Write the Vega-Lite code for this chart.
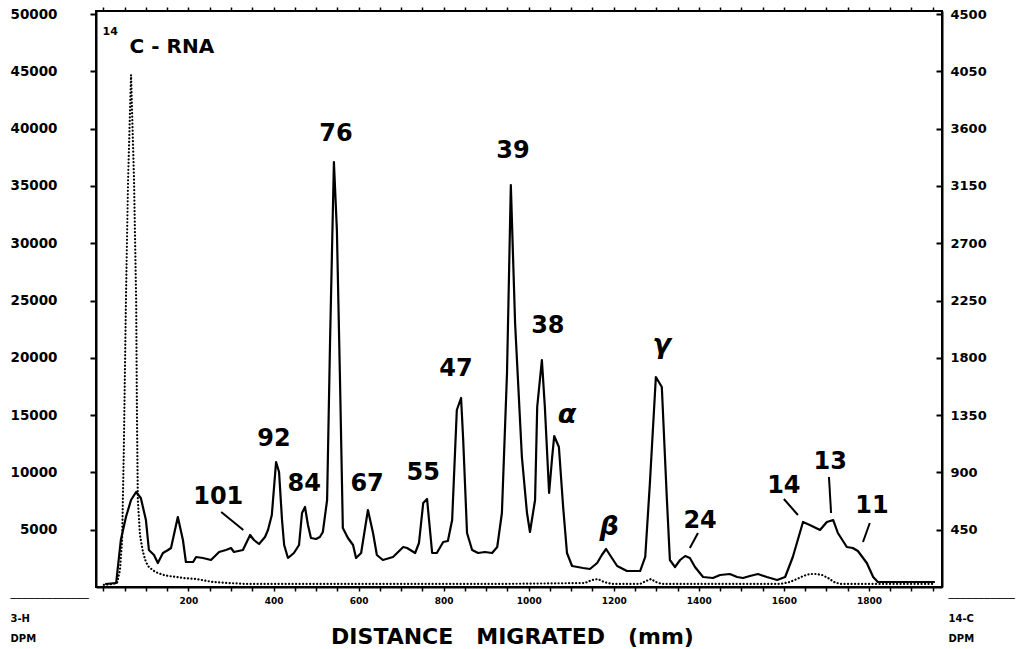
{
  "$schema": "https://vega.github.io/schema/vega-lite/v6.json",
  "width": 846,
  "height": 576,
  "autosize": {"type": "none"},
  "padding": {"left": 96, "top": 11, "right": 75, "bottom": 62},
  "background": "white",
  "config": {
    "view": {"stroke": "black", "strokeWidth": 2},
    "axis": {"grid": false, "labelColor": "black", "tickColor": "black", "domainColor": "black", "titleColor": "black", "labelFont": "DejaVu Sans", "titleFont": "DejaVu Sans", "labelFontWeight": "bold", "titleFontWeight": "bold"}
  },
  "datasets": {
    "solid": [
      {"x": 4, "y": 262}, {"x": 30, "y": 349}, {"x": 41, "y": 4101}, {"x": 53, "y": 6108}, {"x": 65, "y": 7592},
      {"x": 77, "y": 8290}, {"x": 88, "y": 7766}, {"x": 100, "y": 5846}, {"x": 107, "y": 3229}, {"x": 119, "y": 2792},
      {"x": 128, "y": 2094}, {"x": 140, "y": 2967}, {"x": 152, "y": 3229}, {"x": 159, "y": 3403}, {"x": 175, "y": 6108},
      {"x": 187, "y": 4101}, {"x": 194, "y": 2182}, {"x": 211, "y": 2182}, {"x": 218, "y": 2618}, {"x": 234, "y": 2531},
      {"x": 253, "y": 2356}, {"x": 272, "y": 3054}, {"x": 288, "y": 3229}, {"x": 300, "y": 3403}, {"x": 307, "y": 3054},
      {"x": 328, "y": 3229}, {"x": 345, "y": 4538}, {"x": 354, "y": 4101}, {"x": 366, "y": 3752}, {"x": 380, "y": 4363},
      {"x": 387, "y": 4974}, {"x": 396, "y": 6283}, {"x": 406, "y": 10908}, {"x": 413, "y": 10035}, {"x": 420, "y": 5846},
      {"x": 425, "y": 3665}, {"x": 434, "y": 2531}, {"x": 448, "y": 2967}, {"x": 460, "y": 3665}, {"x": 467, "y": 6457},
      {"x": 474, "y": 6981}, {"x": 481, "y": 5410}, {"x": 488, "y": 4276}, {"x": 500, "y": 4188}, {"x": 509, "y": 4363},
      {"x": 516, "y": 4799}, {"x": 526, "y": 7592}, {"x": 533, "y": 21553}, {"x": 542, "y": 37086}, {"x": 549, "y": 31152},
      {"x": 556, "y": 18674}, {"x": 563, "y": 5148}, {"x": 575, "y": 4276}, {"x": 587, "y": 3665}, {"x": 594, "y": 2531},
      {"x": 606, "y": 2967}, {"x": 622, "y": 6719}, {"x": 634, "y": 4712}, {"x": 643, "y": 2792}, {"x": 657, "y": 2356},
      {"x": 681, "y": 2618}, {"x": 705, "y": 3490}, {"x": 714, "y": 3403}, {"x": 733, "y": 2967}, {"x": 742, "y": 3839},
      {"x": 752, "y": 7330}, {"x": 761, "y": 7679}, {"x": 773, "y": 2967}, {"x": 784, "y": 2967}, {"x": 799, "y": 3927},
      {"x": 810, "y": 4014}, {"x": 820, "y": 5846}, {"x": 831, "y": 15445}, {"x": 841, "y": 16492}, {"x": 846, "y": 12827},
      {"x": 855, "y": 4712}, {"x": 867, "y": 3229}, {"x": 881, "y": 2967}, {"x": 897, "y": 3054}, {"x": 914, "y": 2967},
      {"x": 926, "y": 3490}, {"x": 937, "y": 6457}, {"x": 949, "y": 18674}, {"x": 958, "y": 35079}, {"x": 968, "y": 23037},
      {"x": 984, "y": 11344}, {"x": 996, "y": 6457}, {"x": 1003, "y": 4799}, {"x": 1015, "y": 7592}, {"x": 1020, "y": 15707},
      {"x": 1031, "y": 19808}, {"x": 1038, "y": 15707}, {"x": 1048, "y": 8202}, {"x": 1055, "y": 11257}, {"x": 1060, "y": 13176},
      {"x": 1071, "y": 12216}, {"x": 1081, "y": 6981}, {"x": 1090, "y": 2967}, {"x": 1102, "y": 1832}, {"x": 1128, "y": 1658},
      {"x": 1144, "y": 1571}, {"x": 1161, "y": 2094}, {"x": 1172, "y": 2792}, {"x": 1182, "y": 3316}, {"x": 1191, "y": 2792},
      {"x": 1208, "y": 1832}, {"x": 1231, "y": 1396}, {"x": 1262, "y": 1396}, {"x": 1274, "y": 2618}, {"x": 1285, "y": 9075},
      {"x": 1299, "y": 18325}, {"x": 1313, "y": 17452}, {"x": 1325, "y": 7592}, {"x": 1332, "y": 2356}, {"x": 1344, "y": 1745},
      {"x": 1356, "y": 2356}, {"x": 1368, "y": 2705}, {"x": 1379, "y": 2531}, {"x": 1391, "y": 1745}, {"x": 1410, "y": 873},
      {"x": 1433, "y": 785}, {"x": 1450, "y": 1047}, {"x": 1473, "y": 1134}, {"x": 1490, "y": 873}, {"x": 1504, "y": 785},
      {"x": 1520, "y": 960}, {"x": 1539, "y": 1134}, {"x": 1560, "y": 873}, {"x": 1584, "y": 611}, {"x": 1603, "y": 873},
      {"x": 1621, "y": 2618}, {"x": 1645, "y": 5672}, {"x": 1661, "y": 5410}, {"x": 1685, "y": 4974}, {"x": 1701, "y": 5672},
      {"x": 1716, "y": 5846}, {"x": 1727, "y": 4712}, {"x": 1748, "y": 3490}, {"x": 1762, "y": 3403}, {"x": 1774, "y": 3141},
      {"x": 1795, "y": 2094}, {"x": 1810, "y": 873}, {"x": 1821, "y": 436}, {"x": 1866, "y": 436}, {"x": 1955, "y": 436}
    ],
    "dotted": [
      {"x": 1, "y": 16}, {"x": 20, "y": 24}, {"x": 32, "y": 31}, {"x": 39, "y": 134}, {"x": 44, "y": 369},
      {"x": 48, "y": 1076}, {"x": 53, "y": 2254}, {"x": 58, "y": 3196}, {"x": 65, "y": 4021}, {"x": 72, "y": 3196},
      {"x": 77, "y": 2254}, {"x": 79, "y": 1311}, {"x": 81, "y": 683}, {"x": 86, "y": 408}, {"x": 93, "y": 275},
      {"x": 100, "y": 196}, {"x": 107, "y": 157}, {"x": 119, "y": 126}, {"x": 128, "y": 110}, {"x": 142, "y": 94},
      {"x": 154, "y": 86}, {"x": 171, "y": 79}, {"x": 187, "y": 71}, {"x": 218, "y": 63}, {"x": 258, "y": 39},
      {"x": 295, "y": 31}, {"x": 335, "y": 24}, {"x": 462, "y": 24}, {"x": 698, "y": 24}, {"x": 933, "y": 24},
      {"x": 1132, "y": 31}, {"x": 1149, "y": 55}, {"x": 1163, "y": 63}, {"x": 1177, "y": 39}, {"x": 1196, "y": 24},
      {"x": 1262, "y": 24}, {"x": 1276, "y": 47}, {"x": 1288, "y": 63}, {"x": 1299, "y": 39}, {"x": 1313, "y": 24},
      {"x": 1591, "y": 24}, {"x": 1614, "y": 39}, {"x": 1631, "y": 63}, {"x": 1645, "y": 86}, {"x": 1661, "y": 102},
      {"x": 1676, "y": 102}, {"x": 1690, "y": 94}, {"x": 1704, "y": 71}, {"x": 1718, "y": 39}, {"x": 1732, "y": 24},
      {"x": 1955, "y": 24}
    ],
    "labels": [
      {"x": 547, "y": 39529, "label": "76"}, {"x": 963, "y": 38045, "label": "39"}, {"x": 401, "y": 12914, "label": "92"},
      {"x": 472, "y": 8988, "label": "84"}, {"x": 620, "y": 8988, "label": "67"}, {"x": 752, "y": 9948, "label": "55"},
      {"x": 829, "y": 19023, "label": "47"}, {"x": 1045, "y": 22775, "label": "38"}, {"x": 270, "y": 7853, "label": "101"},
      {"x": 1403, "y": 5759, "label": "24"}, {"x": 1600, "y": 8813, "label": "14"}, {"x": 1709, "y": 10908, "label": "13"},
      {"x": 1807, "y": 7068, "label": "11"}
    ],
    "greek": [
      {"x": 1090, "y": 15009, "label": "α"}, {"x": 1189, "y": 5236, "label": "β"}, {"x": 1313, "y": 21117, "label": "γ"}
    ],
    "rna": [{"x": 161, "y": 47120, "label": "C - RNA"}],
    "iso": [{"x": 16, "y": 48429, "label": "14"}],
    "leaders": [
      {"x": 277, "y": 6545, "x2": 329, "y2": 4974},
      {"x": 1398, "y": 4712, "x2": 1379, "y2": 3403},
      {"x": 1600, "y": 7679, "x2": 1633, "y2": 6283},
      {"x": 1706, "y": 9599, "x2": 1711, "y2": 6457},
      {"x": 1802, "y": 5585, "x2": 1786, "y2": 3927}
    ]
  },
  "resolve": {"scale": {"y": "independent"}, "axis": {"x": "independent", "y": "independent"}},
  "layer": [
    {
      "data": {"name": "solid"},
      "mark": {"type": "line", "color": "black", "strokeWidth": 2.2, "strokeJoin": "round"},
      "encoding": {
        "x": {"field": "x", "type": "quantitative", "scale": {"domain": [-17.4, 1971.8], "nice": false, "zero": false},
          "axis": {"orient": "bottom", "values": [0,50,100,150,200,250,300,350,400,450,500,550,600,650,700,750,800,850,900,950,1000,1050,1100,1150,1200,1250,1300,1350,1400,1450,1500,1550,1600,1650,1700,1750,1800,1850,1900,1950],
            "labelExpr": "datum.value % 200 === 0 && datum.value > 0 ? datum.value + '' : ''",
            "labelFontSize": 9, "labelPadding": 5, "tickSize": 4, "tickWidth": 1.5, "domainWidth": 2,
            "title": "DISTANCE\u00a0\u00a0\u00a0MIGRATED\u00a0\u00a0\u00a0(mm)", "titleFontSize": 22, "titleX": 416, "titleY": 56, "titleAlign": "center", "titleBaseline": "alphabetic", "titleAnchor": null}},
        "y": {"field": "y", "type": "quantitative", "scale": {"domain": [0, 50262], "nice": false},
          "axis": {"orient": "left", "values": [5000,10000,15000,20000,25000,30000,35000,40000,45000,50000], "format": "d",
            "labelFontSize": 13.5, "labelPadding": 33, "tickSize": 6, "tickWidth": 2, "domainWidth": 2,
            "title": ["\u2500\u2500\u2500\u2500\u2500\u2500\u2500\u2500\u2500\u2500\u2500\u2500\u2500", "3-H", "DPM"], "titleFontSize": 10, "titleAngle": 0, "titleX": -86, "titleY": 582, "titleAlign": "left", "titleBaseline": "top", "titleLineHeight": 20, "titleAnchor": null}}
      }
    },
    {
      "data": {"name": "dotted"},
      "mark": {"type": "line", "color": "black", "strokeWidth": 2.2, "strokeDash": [0.1, 3.4], "strokeCap": "round"},
      "encoding": {
        "x": {"field": "x", "type": "quantitative", "axis": null},
        "y": {"field": "y", "type": "quantitative", "scale": {"domain": [0, 4523.6], "nice": false},
          "axis": {"orient": "right", "values": [450,900,1350,1800,2250,2700,3150,3600,4050,4500], "format": "d",
            "labelFontSize": 13, "labelPadding": 14, "tickSize": -6, "tickWidth": 2, "domainWidth": 2, "labelAlign": "left",
            "title": ["\u2500\u2500\u2500\u2500\u2500\u2500\u2500\u2500\u2500\u2500\u2500", "14-C", "DPM"], "titleFontSize": 10, "titleAngle": 0, "titleX": 6, "titleY": 582, "titleAlign": "left", "titleBaseline": "top", "titleLineHeight": 20, "titleAnchor": null}}
      }
    },
    {
      "data": {"name": "leaders"},
      "mark": {"type": "rule", "color": "black", "strokeWidth": 2},
      "encoding": {
        "x": {"field": "x", "type": "quantitative", "axis": null},
        "x2": {"field": "x2"},
        "y": {"field": "y", "type": "quantitative", "scale": {"domain": [0, 50262], "nice": false}, "axis": null},
        "y2": {"field": "y2"}
      }
    },
    {
      "data": {"name": "labels"},
      "mark": {"type": "text", "font": "DejaVu Sans", "fontWeight": "bold", "fontSize": 24, "color": "black", "align": "center", "baseline": "middle"},
      "encoding": {
        "x": {"field": "x", "type": "quantitative",
          "axis": {"orient": "top", "values": [0,50,100,150,200,250,300,350,400,450,500,550,600,650,700,750,800,850,900,950,1000,1050,1100,1150,1200,1250,1300,1350,1400,1450,1500,1550,1600,1650,1700,1750,1800,1850,1900,1950],
            "labels": false, "tickSize": 4, "tickWidth": 1.5, "domain": false, "title": null}},
        "y": {"field": "y", "type": "quantitative", "scale": {"domain": [0, 50262], "nice": false}, "axis": null},
        "text": {"field": "label"}
      }
    },
    {
      "data": {"name": "greek"},
      "mark": {"type": "text", "font": "DejaVu Sans", "fontWeight": "bold", "fontStyle": "italic", "fontSize": 27, "color": "black", "align": "center", "baseline": "middle"},
      "encoding": {
        "x": {"field": "x", "type": "quantitative", "axis": null},
        "y": {"field": "y", "type": "quantitative", "scale": {"domain": [0, 50262], "nice": false}, "axis": null},
        "text": {"field": "label"}
      }
    },
    {
      "data": {"name": "rna"},
      "mark": {"type": "text", "font": "DejaVu Sans", "fontWeight": "bold", "fontSize": 20, "color": "black", "align": "center", "baseline": "middle"},
      "encoding": {
        "x": {"field": "x", "type": "quantitative", "axis": null},
        "y": {"field": "y", "type": "quantitative", "scale": {"domain": [0, 50262], "nice": false}, "axis": null},
        "text": {"field": "label"}
      }
    },
    {
      "data": {"name": "iso"},
      "mark": {"type": "text", "font": "DejaVu Sans", "fontWeight": "bold", "fontSize": 11, "color": "black", "align": "center", "baseline": "middle"},
      "encoding": {
        "x": {"field": "x", "type": "quantitative", "axis": null},
        "y": {"field": "y", "type": "quantitative", "scale": {"domain": [0, 50262], "nice": false}, "axis": null},
        "text": {"field": "label"}
      }
    }
  ]
}
